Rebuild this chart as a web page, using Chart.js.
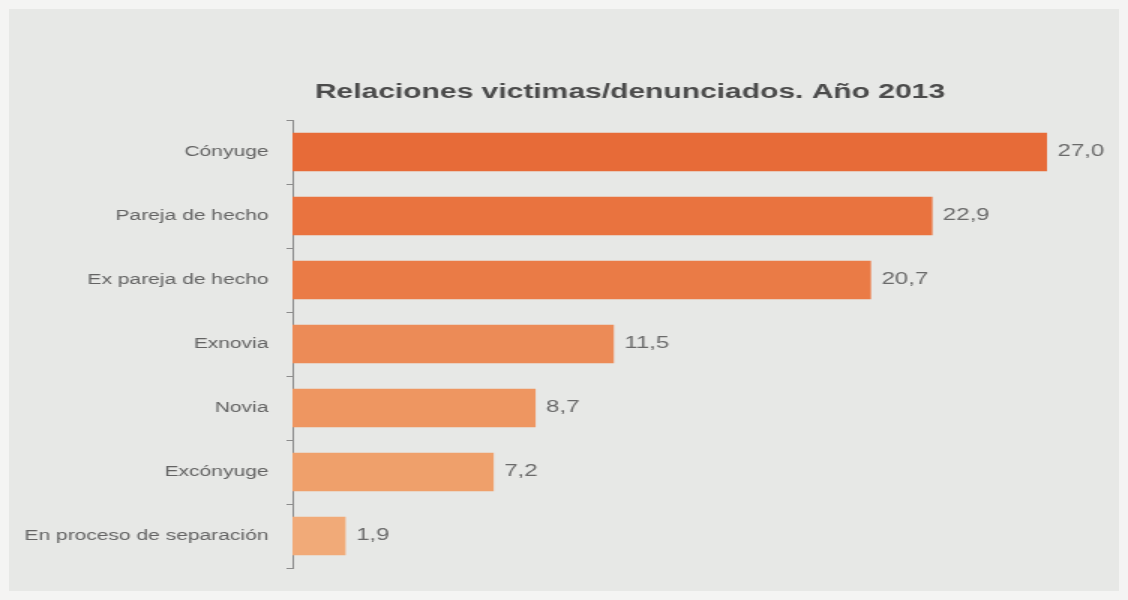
<!DOCTYPE html>
<html>
<head>
<meta charset="utf-8">
<script src="https://cdn.jsdelivr.net/npm/chart.js@4"></script>
<style>
    html, body { margin: 0; padding: 0; background: #f3f3f2; }
    #wrap {
        position: relative;
        width: 1128px;
        height: 600px;
        background: #e7e8e6;
        box-shadow: inset 0 0 0 9px #f4f4f3;
    }
    /* the photo is stretched sideways, so the canvas is drawn narrow and widened */
    #chart {
        position: absolute;
        left: 0;
        top: 0;
        width: 1128px !important;
        height: 600px !important;
    }
</style>
</head>
<body>
<div id="wrap"><canvas id="chart" width="752" height="600"></canvas></div>
<script>
const titleText = 'Relaciones victimas/denunciados. Año 2013';
const categories = ['Cónyuge', 'Pareja de hecho', 'Ex pareja de hecho', 'Exnovia', 'Novia', 'Excónyuge', 'En proceso de separación'];
const values = [27.0, 22.9, 20.7, 11.5, 8.7, 7.2, 1.9];
const barColors = ['#e76b38', '#e9733f', '#ea7b46', '#ec8b57', '#ee9661', '#efa06b', '#f1aa78'];

// etiquetas de valor al final de cada barra
const valueLabels = {
    id: 'valueLabels',
    afterDatasetsDraw(chart) {
        const ctx = chart.ctx;
        const meta = chart.getDatasetMeta(0);
        ctx.save();
        ctx.font = '16px "Liberation Sans", Arial, sans-serif';
        ctx.fillStyle = '#6a6a6a';
        ctx.textAlign = 'left';
        ctx.textBaseline = 'middle';
        meta.data.forEach((bar, i) => {
            const txt = values[i].toFixed(1).replace('.', ',');
            ctx.fillText(txt, bar.x + 7, bar.y);
        });
        ctx.restore();
    }
};

// título, algo desplazado a la derecha como en la diapositiva
const slideTitle = {
    id: 'slideTitle',
    afterDraw(chart) {
        const ctx = chart.ctx;
        ctx.save();
        ctx.font = 'bold 20px "Liberation Sans", Arial, sans-serif';
        ctx.fillStyle = '#4b4b4b';
        ctx.textAlign = 'center';
        ctx.textBaseline = 'middle';
        ctx.fillText(titleText, 420, 92);
        ctx.restore();
    }
};

const ctx = document.getElementById('chart').getContext('2d');

new Chart(ctx, {
    type: 'bar',
    data: {
        labels: categories,
        datasets: [
            {
                data: values,
                backgroundColor: barColors,
                borderWidth: 0,
                barPercentage: 0.6,
                categoryPercentage: 1.0,
            },
        ],
    },
    options: {
        indexAxis: 'y',
        responsive: false,
        animation: false,
        devicePixelRatio: 1,
        layout: {
            padding: { left: 0, right: 54, top: 120, bottom: 32 },
        },
        plugins: {
            legend: { display: false },
            tooltip: { enabled: false },
            title: { display: false },
        },
        scales: {
            x: {
                display: false,
                min: 0,
                max: 27,
            },
            y: {
                afterFit: (scale) => { scale.width = 195; },
                grid: {
                    offset: true,
                    drawOnChartArea: false,
                    tickLength: 4,
                    color: '#8c8c8c',
                },
                border: { display: true, color: '#8c8c8c', width: 1 },
                ticks: {
                    padding: 12,
                    color: '#636363',
                    font: { family: '"Liberation Sans", Arial, sans-serif', size: 14 },
                },
            },
        },
    },
    plugins: [valueLabels, slideTitle],
});
</script>
</body>
</html>
